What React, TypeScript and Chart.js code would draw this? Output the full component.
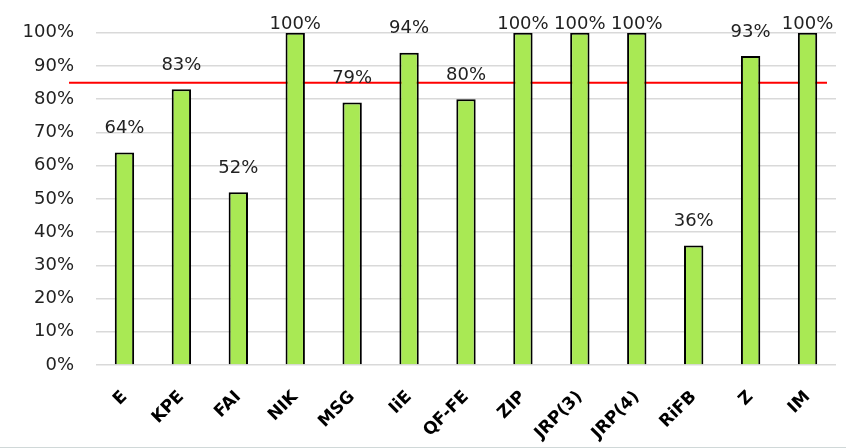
import React, { useEffect, useRef } from "react";
import { Chart, registerables } from "chart.js";

Chart.register(...registerables);

const categories = ["E", "KPE", "FAI", "NIK", "MSG", "IiE", "QF-FE", "ZIP", "JRP(3)", "JRP(4)", "RiFB", "Z", "IM"];
const values = [64, 83, 52, 100, 79, 94, 80, 100, 100, 100, 36, 93, 100];
const threshold = 85;
const yTicks = [0, 10, 20, 30, 40, 50, 60, 70, 80, 90, 100];

const FONT = "'DejaVu Sans', sans-serif";

const thresholdPlugin = {
  id: "thresholdLine",
  beforeDatasetsDraw(chart: any) {
    const { ctx, chartArea, scales } = chart;
    const y = scales.y.getPixelForValue(threshold);
    ctx.save();
    ctx.strokeStyle = "#ff0000";
    ctx.lineWidth = 2;
    ctx.beginPath();
    ctx.moveTo(chartArea.left - 27, y);
    ctx.lineTo(chartArea.right - 9, y);
    ctx.stroke();
    ctx.restore();
  },
};

const valueLabelPlugin = {
  id: "valueLabels",
  afterDatasetsDraw(chart: any) {
    const { ctx, chartArea } = chart;
    const meta = chart.getDatasetMeta(0);
    ctx.save();
    ctx.font = `18px ${FONT}`;
    ctx.fillStyle = "#222";
    ctx.textAlign = "center";
    ctx.textBaseline = "middle";
    meta.data.forEach((bar: any, i: number) => {
      const y = Math.max(bar.y - 24, chartArea.top - 8);
      ctx.fillText(`${values[i]}%`, bar.x, y);
    });
    ctx.restore();
  },
};

export default function App() {
  const ref = useRef<HTMLCanvasElement | null>(null);
  useEffect(() => {
    document.body.style.margin = "0";
    if (!ref.current) return;
    const chart = new Chart(ref.current, {
      type: "bar",
      data: {
        labels: categories,
        datasets: [
          {
            data: values,
            backgroundColor: "#a9e954",
            borderColor: "#000",
            borderWidth: 2,
            barPercentage: 0.34,
            categoryPercentage: 1,
          },
        ],
      },
      options: {
        responsive: false,
        animation: false,
        layout: { padding: { left: 22, right: 10, top: 29, bottom: 0 } },
        plugins: { legend: { display: false }, tooltip: { enabled: false } },
        scales: {
          x: {
            grid: { display: false, drawTicks: false },
            border: { display: false },
            ticks: {
              minRotation: 45,
              maxRotation: 45,
              padding: 22,
              color: "#000",
              font: { family: FONT, size: 17, weight: "bold" },
              autoSkip: false,
            },
            afterFit(scale: any) {
              scale.height = 82;
            },
          },
          y: {
            min: 0,
            max: 100,
            grid: { color: "#d9d9d9", lineWidth: 1.5, drawTicks: false },
            border: { display: false },
            afterBuildTicks(scale: any) {
              scale.ticks = yTicks.map((v) => ({ value: v }));
            },
            ticks: {
              padding: 22,
              color: "#222",
              font: { family: FONT, size: 18 },
              callback: (v: any) => `${v}%`,
            },
            afterFit(scale: any) {
              scale.width = 74;
            },
          },
        },
      },
      plugins: [thresholdPlugin, valueLabelPlugin],
    });
    return () => chart.destroy();
  }, []);
  return (
    <div style={{ width: 846, height: 447, borderBottom: "1px solid #d0d8d8", background: "#fff" }}>
      <canvas ref={ref} width={846} height={447} style={{ display: "block" }} />
    </div>
  );
}
